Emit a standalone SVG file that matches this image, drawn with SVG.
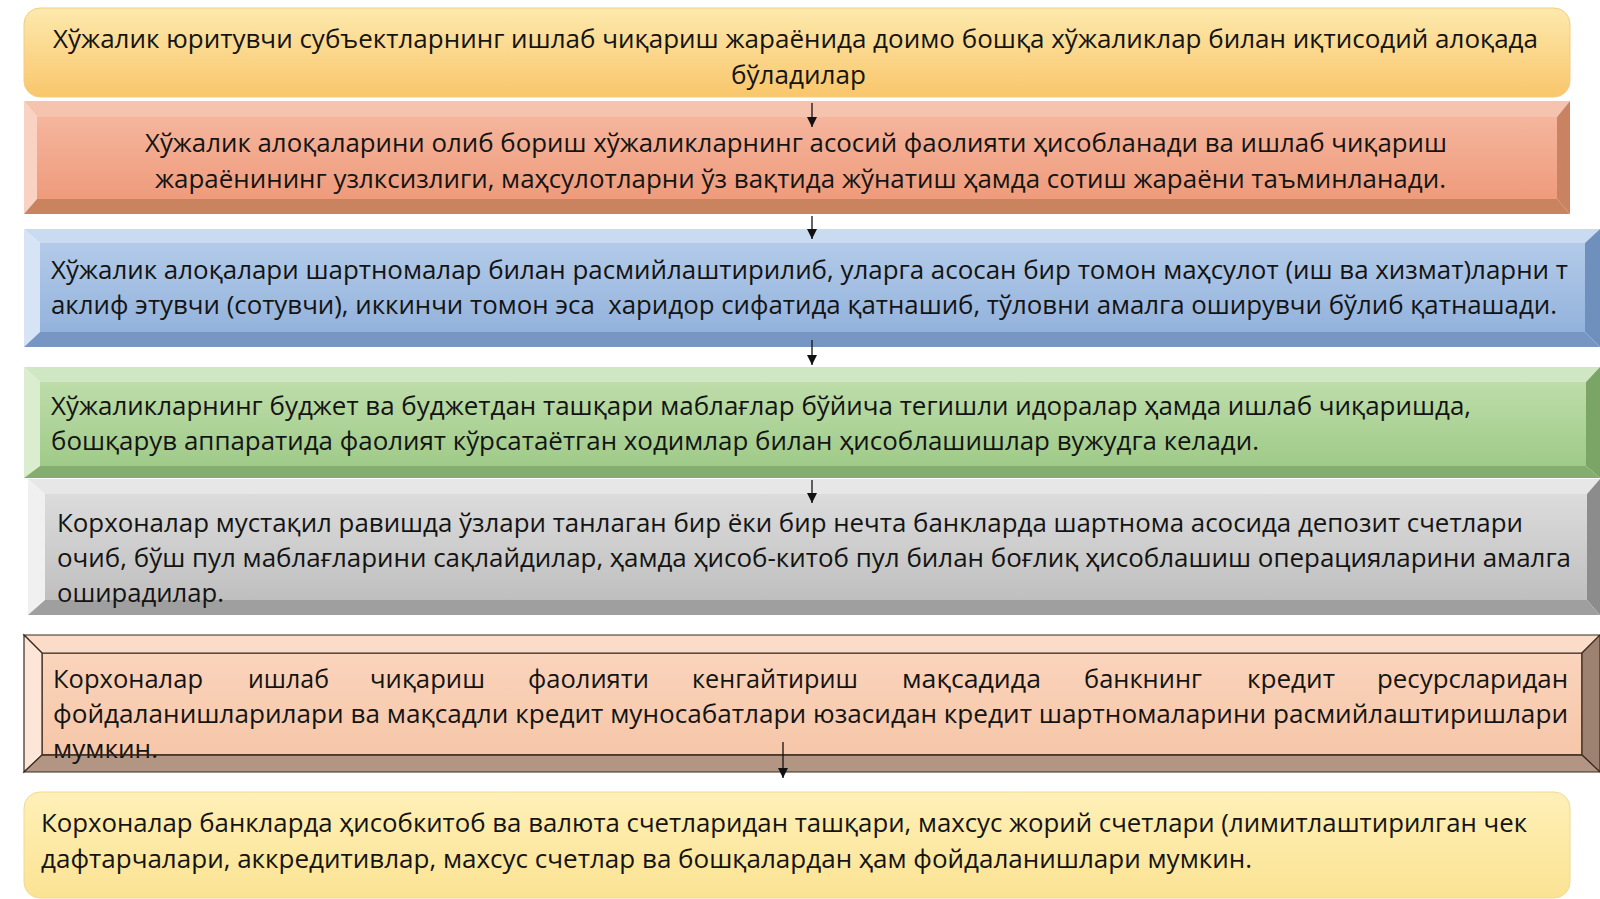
<svg xmlns="http://www.w3.org/2000/svg" width="1600" height="899" viewBox="0 0 1600 899">
<style>
.t{font-family:"Open Sans","Noto Sans","DejaVu Sans",sans-serif;font-size:26px;fill:#141414}
.conn line{stroke:#111;stroke-width:1.3;fill:none}
.b6 polygon,.b6 rect{stroke:#3a2a20;stroke-width:1.2}
</style>
<defs>
<linearGradient id="gY" x1="0" y1="0" x2="0" y2="1"><stop offset="0" stop-color="#fde9ad"/><stop offset="1" stop-color="#f9c66b"/></linearGradient>
<linearGradient id="gS" x1="0" y1="0" x2="0" y2="1"><stop offset="0" stop-color="#f5b59d"/><stop offset="1" stop-color="#ef9b7c"/></linearGradient>
<linearGradient id="gB" x1="0" y1="0" x2="0" y2="1"><stop offset="0" stop-color="#b3cbe9"/><stop offset="1" stop-color="#93b2dc"/></linearGradient>
<linearGradient id="gG" x1="0" y1="0" x2="0" y2="1"><stop offset="0" stop-color="#bedda9"/><stop offset="1" stop-color="#9fca89"/></linearGradient>
<linearGradient id="gR" x1="0" y1="0" x2="0" y2="1"><stop offset="0" stop-color="#dcdcdc"/><stop offset="1" stop-color="#bfbfbf"/></linearGradient>
<linearGradient id="gP" x1="0" y1="0" x2="0" y2="1"><stop offset="0" stop-color="#fad4bc"/><stop offset="1" stop-color="#f6c6a8"/></linearGradient>
<linearGradient id="gL" x1="0" y1="0" x2="0" y2="1"><stop offset="0" stop-color="#fff0b8"/><stop offset="1" stop-color="#fbe393"/></linearGradient>
<marker id="ah" markerUnits="userSpaceOnUse" markerWidth="10" markerHeight="10" refX="10" refY="5" orient="auto" viewBox="0 0 10 10">
<path d="M0,0 L10,5 L0,10 z" fill="#111"/>
</marker>
</defs>
<rect width="1600" height="899" fill="#ffffff"/>

<g id="node1">
<rect x="24" y="8" width="1546" height="89" rx="16" fill="url(#gY)" stroke="#f3cd80" stroke-width="1"/>
<text class="t" x="53" y="48" textLength="1485" lengthAdjust="spacingAndGlyphs">Хўжалик юритувчи субъектларнинг ишлаб чиқариш жараёнида доимо бошқа хўжаликлар билан иқтисодий алоқада</text>
<text class="t" x="731" y="84" textLength="135" lengthAdjust="spacingAndGlyphs">бўладилар</text>
</g>

<g id="node2">
<rect x="37" y="117" width="1520" height="82" fill="url(#gS)"/>
<polygon points="24,101 1570,101 1557,117 37,117" fill="#f6c3af"/>
<polygon points="24,101 37,117 37,199 24,214" fill="#f9d2c4"/>
<polygon points="1570,101 1570,214 1557,199 1557,117" fill="#c98362"/>
<polygon points="24,214 37,199 1557,199 1570,214" fill="#c9845f"/>
<text class="t" x="145" y="152" textLength="1302" lengthAdjust="spacingAndGlyphs">Хўжалик алоқаларини олиб бориш хўжаликларнинг асосий фаолияти ҳисобланади ва ишлаб чиқариш</text>
<text class="t" x="155" y="188" textLength="1291" lengthAdjust="spacingAndGlyphs">жараёнининг узлксизлиги, маҳсулотларни ўз вақтида жўнатиш ҳамда сотиш жараёни таъминланади.</text>
</g>

<g id="node3">
<rect x="40" y="243" width="1545" height="89" fill="url(#gB)"/>
<polygon points="24,229 1600,229 1585,243 40,243" fill="#c9dbf1"/>
<polygon points="24,229 40,243 40,332 24,347" fill="#d6e4f6"/>
<polygon points="1600,229 1600,347 1585,332 1585,243" fill="#6f8fbd"/>
<polygon points="24,347 40,332 1585,332 1600,347" fill="#7896c3"/>
<text class="t" x="51" y="279" textLength="1517" lengthAdjust="spacingAndGlyphs">Хўжалик алоқалари шартномалар билан расмийлаштирилиб, уларга асосан бир томон маҳсулот (иш ва хизмат)ларни т</text>
<text class="t" x="51" y="314" textLength="1506" lengthAdjust="spacingAndGlyphs" xml:space="preserve">аклиф этувчи (сотувчи), иккинчи томон эса  харидор сифатида қатнашиб, тўловни амалга оширувчи бўлиб қатнашади.</text>
</g>

<g id="node4">
<rect x="40" y="382" width="1546" height="84" fill="url(#gG)"/>
<polygon points="24,367 1600,367 1586,382 40,382" fill="#d0e7c3"/>
<polygon points="24,367 40,382 40,466 24,478" fill="#daeecf"/>
<polygon points="1600,367 1600,478 1586,466 1586,382" fill="#7ba566"/>
<polygon points="24,478 40,466 1586,466 1600,478" fill="#84ae70"/>
<text class="t" x="51" y="415" textLength="1420" lengthAdjust="spacingAndGlyphs">Хўжаликларнинг буджет ва буджетдан ташқари маблағлар бўйича тегишли идоралар ҳамда ишлаб чиқаришда,</text>
<text class="t" x="51" y="450" textLength="1208" lengthAdjust="spacingAndGlyphs">бошқарув аппаратида фаолият кўрсатаётган ходимлар билан ҳисоблашишлар вужудга келади.</text>
</g>

<g id="node5">
<rect x="45" y="494" width="1542" height="106" fill="url(#gR)"/>
<polygon points="28,479 1600,479 1587,494 45,494" fill="#e7e7e7"/>
<polygon points="28,479 45,494 45,600 28,615" fill="#f0f0f0"/>
<polygon points="1600,479 1600,615 1587,600 1587,494" fill="#8c8c8c"/>
<polygon points="28,615 45,600 1587,600 1600,615" fill="#9f9f9f"/>
<text class="t" x="57" y="532" textLength="1466" lengthAdjust="spacingAndGlyphs">Корхоналар мустақил равишда ўзлари танлаган бир ёки бир нечта банкларда шартнома асосида депозит счетлари</text>
<text class="t" x="57" y="567" textLength="1514" lengthAdjust="spacingAndGlyphs">очиб, бўш пул маблағларини сақлайдилар, ҳамда ҳисоб-китоб пул билан боғлиқ ҳисоблашиш операцияларини амалга</text>
<text class="t" x="57" y="602" textLength="167" lengthAdjust="spacingAndGlyphs">оширадилар.</text>
</g>

<g id="node6" class="b6">
<rect x="42" y="653" width="1540" height="102" fill="url(#gP)"/>
<polygon points="24,635 1600,635 1582,653 42,653" fill="#fbdcc8"/>
<polygon points="24,635 42,653 42,755 24,772" fill="#fde6d7"/>
<polygon points="1600,635 1600,772 1582,755 1582,653" fill="#9e8271"/>
<polygon points="24,772 42,755 1582,755 1600,772" fill="#b39584"/>
<text class="t" x="53" y="688" textLength="150" lengthAdjust="spacingAndGlyphs">Корхоналар</text>
<text class="t" x="248" y="688" textLength="81" lengthAdjust="spacingAndGlyphs">ишлаб</text>
<text class="t" x="370" y="688" textLength="115" lengthAdjust="spacingAndGlyphs">чиқариш</text>
<text class="t" x="528" y="688" textLength="121" lengthAdjust="spacingAndGlyphs">фаолияти</text>
<text class="t" x="692" y="688" textLength="166" lengthAdjust="spacingAndGlyphs">кенгайтириш</text>
<text class="t" x="902" y="688" textLength="139" lengthAdjust="spacingAndGlyphs">мақсадида</text>
<text class="t" x="1084" y="688" textLength="118" lengthAdjust="spacingAndGlyphs">банкнинг</text>
<text class="t" x="1247" y="688" textLength="88" lengthAdjust="spacingAndGlyphs">кредит</text>
<text class="t" x="1377" y="688" textLength="191" lengthAdjust="spacingAndGlyphs">ресурсларидан</text>
<text class="t" x="53" y="723" textLength="1515" lengthAdjust="spacingAndGlyphs">фойдаланишларилари ва мақсадли кредит муносабатлари юзасидан кредит шартномаларини расмийлаштиришлари</text>
<text class="t" x="53" y="758" textLength="105" lengthAdjust="spacingAndGlyphs">мумкин.</text>
<line x1="42" y1="755" x2="1582" y2="755" stroke="#3a2a20" stroke-width="1.2"/>
</g>

<g id="node7">
<rect x="24" y="792" width="1546" height="106" rx="16" fill="url(#gL)" stroke="#f1da90" stroke-width="1"/>
<text class="t" x="41" y="832" textLength="1486" lengthAdjust="spacingAndGlyphs">Корхоналар банкларда ҳисобкитоб ва валюта счетларидан ташқари, махсус жорий счетлари (лимитлаштирилган чек</text>
<text class="t" x="41" y="868" textLength="1211" lengthAdjust="spacingAndGlyphs">дафтарчалари, аккредитивлар, махсус счетлар ва бошқалардан ҳам фойдаланишлари мумкин.</text>
</g>

<g id="connectors" class="conn">
<line x1="812" y1="103" x2="812" y2="127" marker-end="url(#ah)"/>
<line x1="812" y1="216" x2="812" y2="239" marker-end="url(#ah)"/>
<line x1="812" y1="340" x2="812" y2="365" marker-end="url(#ah)"/>
<line x1="812" y1="480" x2="812" y2="503" marker-end="url(#ah)"/>
<line x1="783" y1="742" x2="783" y2="778" marker-end="url(#ah)"/>
</g>
</svg>
